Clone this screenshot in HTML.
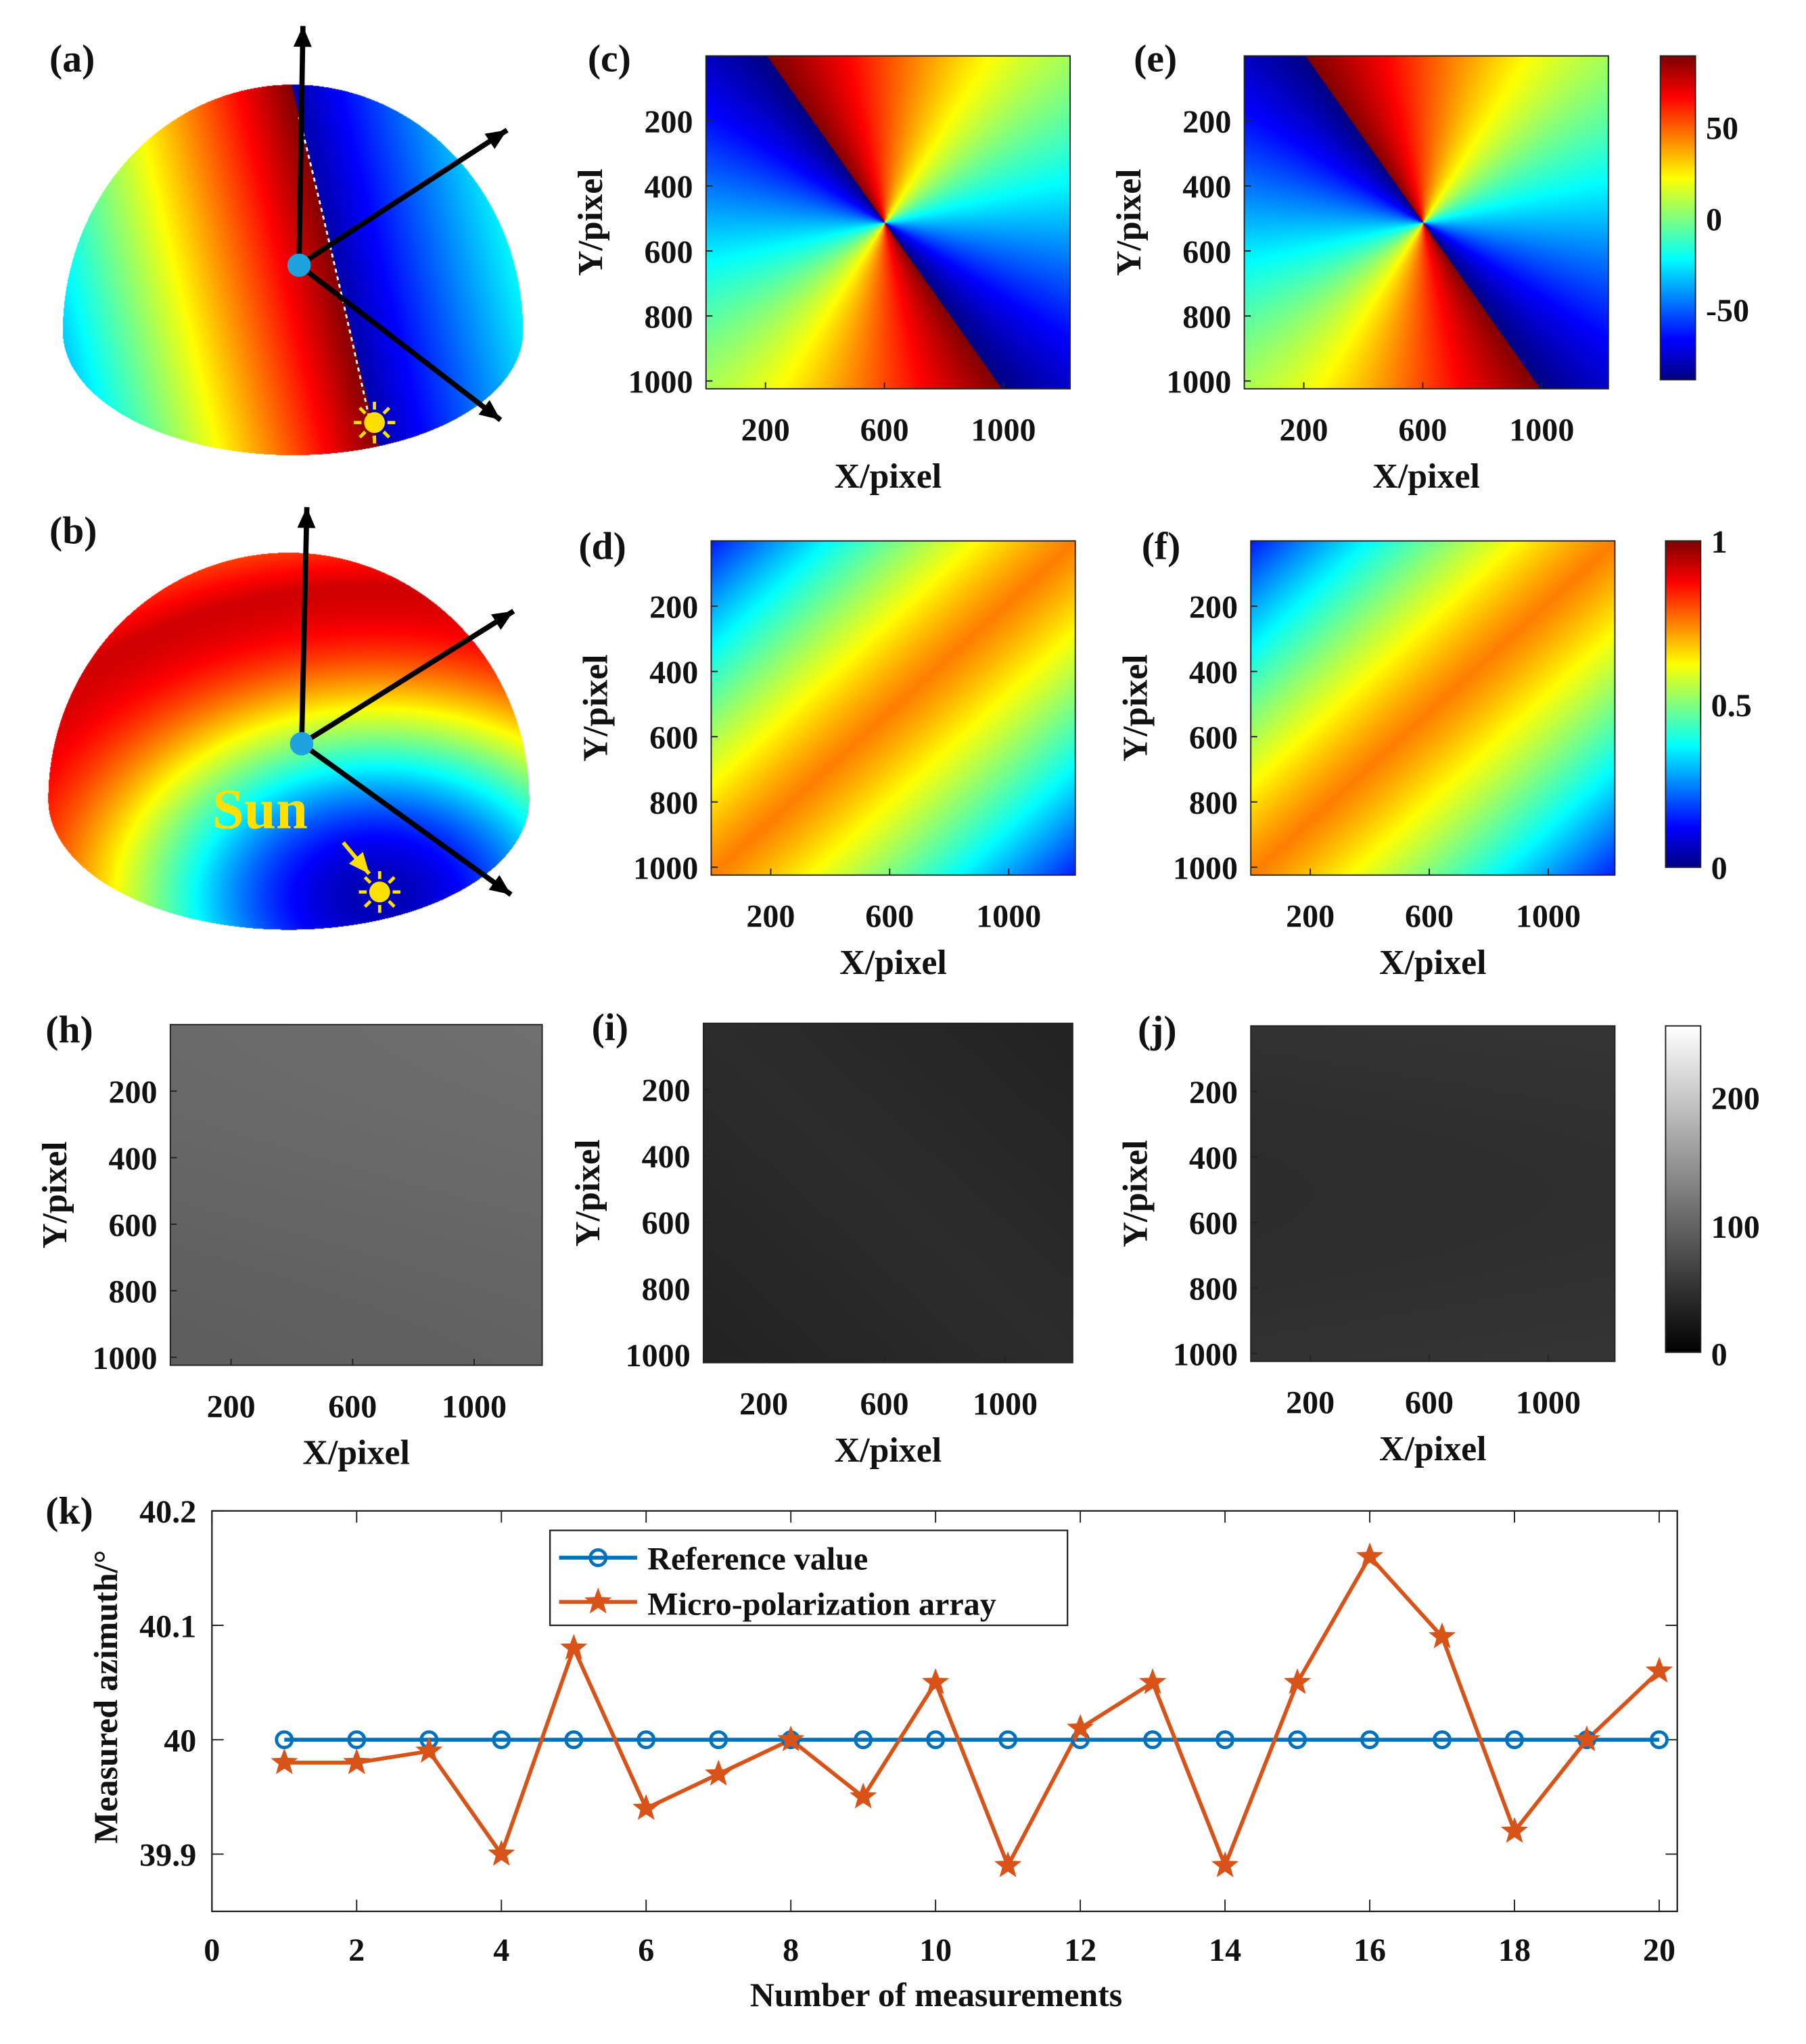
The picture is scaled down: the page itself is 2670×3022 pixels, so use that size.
<!DOCTYPE html>
<html><head><meta charset="utf-8">
<style>
html,body{margin:0;padding:0;background:#fff;}
#wrap{position:relative;width:2670px;height:3022px;overflow:hidden;}
canvas,svg{position:absolute;left:0;top:0;}
text{font-family:"Liberation Serif",serif;font-weight:bold;fill:#111;}
</style></head>
<body>
<div id="wrap">
<canvas id="cv" width="2670" height="3022"></canvas>
<svg id="sv" width="2670" height="3022" viewBox="0 0 1389 1572" preserveAspectRatio="none"></svg>
</div>
<script>
// ---- line chart data (panel k) ----
const measIdx = [1,2,3,4,5,6,7,8,9,10,11,12,13,14,15,16,17,18,19,20];
const refValues = [40,40,40,40,40,40,40,40,40,40,40,40,40,40,40,40,40,40,40,40];
const microValues = [39.98,39.98,39.99,39.90,40.08,39.94,39.97,40.00,39.95,40.05,39.89,40.01,40.05,39.89,40.05,40.16,40.09,39.92,40.00,40.06];
const xTicks = [0,2,4,6,8,10,12,14,16,18,20];
const yTicks = [39.9,40,40.1,40.2];
const yTickLabels = ["39.9","40","40.1","40.2"];
const legendLabels = ["Reference value","Micro-polarization array"];
const hmXTicks = [200,600,1000];
const hmYTicks = [200,400,600,800,1000];

const S = 2670/1389, SY = 3022/1572;
const cv = document.getElementById('cv');
const ctx = cv.getContext('2d');
ctx.fillStyle='#fff';ctx.fillRect(0,0,2670,3022);
const NS='http://www.w3.org/2000/svg';
const sv=document.getElementById('sv');
function el(tag,attrs,parent){const e=document.createElementNS(NS,tag);for(const k in attrs)e.setAttribute(k,attrs[k]);(parent||sv).appendChild(e);return e;}
function txt(x,y,s,size,anchor,name,extra){const t=el('text',Object.assign({x:x,y:y,'font-size':size,'text-anchor':anchor||'middle'},extra||{}));t.textContent=s;return t;}
function cl(v){return v<0?0:v>1?1:v;}
function jet(v){v=cl(v);return [cl(1.5-Math.abs(4*v-3))*255,cl(1.5-Math.abs(4*v-2))*255,cl(1.5-Math.abs(4*v-1))*255];}

function paint(x,y,w,h,fn){
  const pw=Math.round(w*S),ph=Math.round(h*SY);
  const id=ctx.createImageData(pw,ph);
  for(let j=0;j<ph;j++)for(let i=0;i<pw;i++){
    const c=fn(i/pw,j/ph,i/S,j/SY);
    if(!c)continue;
    const k=(j*pw+i)*4;id.data[k]=c[0];id.data[k+1]=c[1];id.data[k+2]=c[2];id.data[k+3]=255;
  }
  ctx.putImageData(id,Math.round(x*S),Math.round(y*SY));
}
const phi0=Math.atan2(-129,-91);
function aop(xn,yn){const dx=(xn-0.49)*280,dy=(yn-0.5)*256;let p=Math.atan2(dy,dx)-phi0;p=((p%Math.PI)+Math.PI)%Math.PI;return jet(1-p/Math.PI);}
function dop(xn,yn){const d=Math.abs(xn+yn-1);return jet(0.75-0.6*Math.pow(d,1.2));}
function grayC(g){g=Math.max(0,Math.min(255,g));return [g,g,g];}

paint(543,43,280,256,aop);
paint(957,43,280,256,aop);
paint(547,416,280,257,dop);
paint(962,416,280,257,dop);
paint(131,788,286,262,(xn,yn)=>grayC(102+5*(xn-yn)+4*Math.cos(3*yn)));
paint(541,787,284,261,(xn,yn)=>grayC(34+10*(1-Math.abs(xn-yn))));
paint(962,789,280,258,(xn,yn)=>grayC(50-6*Math.sin(Math.PI*yn)+3*xn));
paint(1277,43,27,249,(xn,yn)=>jet(1-yn));
paint(1281,416,27,251,(xn,yn)=>jet(1-yn));
paint(1281,789,27,251,(xn,yn)=>grayC(255*(1-yn)));

function inDome(px,py,cx,cy,rx,ryT,ryB){const dx=(px-cx)/rx;if(Math.abs(dx)>1)return false;if(py<=cy)return ((py-cy)/ryT)**2+dx*dx<=1;return ((py-cy)/ryB)**2+dx*dx<=1;}
paint(40,60,370,300,(xn,yn,lx,ly)=>{
  const px=40+lx,py=60+ly;
  if(!inDome(px,py,225,255,177,190,95))return null;
  const xc=230+(py-90)*0.24;const d=px-xc;
  let v;
  if(d>=0)v=0.04+d/420;else v=1-(-d)/330;
  return jet(v);
});
paint(35,420,375,300,(xn,yn,lx,ly)=>{
  const px=35+lx,py=420+ly;
  if(!inDome(px,py,222,615,185,190,100))return null;
  const d=Math.hypot((px-290)*0.9,(py-690)*1.25);
  let t=d/300;let v=Math.sin(Math.PI/2*Math.min(t,1.6))**2;
  if(t>1)v=1-(t-1)*0.9;
  return jet(0.05+0.87*v);
});

function arrow(x1,y1,x2,y2,name,color,w){
  const g=el('g',{});
  el('line',{x1:x1,y1:y1,x2:x2,y2:y2,stroke:color||'#000','stroke-width':w||4},g);
  const a=Math.atan2(y2-y1,x2-x1),L=16,W=7;
  const p=[[x2,y2],[x2-L*Math.cos(a)+W*Math.sin(a),y2-L*Math.sin(a)-W*Math.cos(a)],[x2-L*Math.cos(a)-W*Math.sin(a),y2-L*Math.sin(a)+W*Math.cos(a)]];
  el('polygon',{points:p.map(q=>q.join(',')).join(' '),fill:color||'#000'},g);
}
function sun(cx,cy,name){const g=el('g',{});
  for(let i=0;i<8;i++){const a=i*Math.PI/4;el('line',{x1:cx+10*Math.cos(a),y1:cy+10*Math.sin(a),x2:cx+16*Math.cos(a),y2:cy+16*Math.sin(a),stroke:'#ffe000','stroke-width':2.5},g);}
  el('circle',{cx:cx,cy:cy,r:8,fill:'#ffe000'},g);}
el('path',{d:'M230,90 Q262,220 288,340',stroke:'#fff','stroke-width':1.5,fill:'none','stroke-dasharray':'3,3'});
arrow(230,204,233,20,'zenith-arrow-a');arrow(230,204,390,100,'x-arrow-a');arrow(230,204,385,323,'y-arrow-a');
el('circle',{cx:230,cy:204,r:9,fill:'#1fa3e0'});
sun(288,325,'sun-icon-a');
arrow(232,572,236,390,'zenith-arrow-b');arrow(232,572,395,470,'x-arrow-b');arrow(232,572,393,688,'y-arrow-b');
el('circle',{cx:232,cy:572,r:9,fill:'#1fa3e0'});
txt(200,637,'Sun',44,'middle','sun-label',{style:'fill:#ffe000'});
arrow(264,648,284,672,'sun-pointer-arrow','#ffe000',3);
sun(292,686,'sun-icon-b');

[['(a)',38,55],['(b)',38,418],['(c)',452,55],['(e)',872,55],['(d)',445,430],['(f)',878,430],['(h)',35,802],['(i)',455,800],['(j)',875,802],['(k)',35,1172]].forEach(p=>txt(p[1],p[2],p[0],30,'start','panel-label-'+p[0][1]));

function hmAxes(x,y,w,h,name){
  const xmax=1224,ymax=1024;
  const g=el('g',{});
  el('rect',{x:x,y:y,width:w,height:h,fill:'none',stroke:'#222','stroke-width':1},g);
  hmXTicks.forEach(v=>{const px=x+v/xmax*w;el('line',{x1:px,y1:y+h,x2:px,y2:y+h-5,stroke:'#222'},g);txt(px,y+h+40,String(v),25,'middle','x-tick-label');});
  hmYTicks.forEach(v=>{const py=y+v/ymax*h;el('line',{x1:x,y1:py,x2:x+5,y2:py,stroke:'#222'},g);txt(x-10,py+9,String(v),25,'end','y-tick-label');});
  txt(x+w/2,y+h+76,'X/pixel',27,'middle','x-axis-title');
  txt(0,0,'Y/pixel',27,'middle','y-axis-title',{transform:`translate(${x-80},${y+h/2}) rotate(-90)`});
}
hmAxes(543,43,280,256,'heatmap-c');hmAxes(957,43,280,256,'heatmap-e');
hmAxes(547,416,280,257,'heatmap-d');hmAxes(962,416,280,257,'heatmap-f');
hmAxes(131,788,286,262,'heatmap-h');hmAxes(541,787,284,261,'heatmap-i');hmAxes(962,789,280,258,'heatmap-j');
[[1277,43,27,249],[1281,416,27,251],[1281,789,27,251]].forEach((r,i)=>{const e=el('rect',{x:r[0],y:r[1],width:r[2],height:r[3],fill:'none',stroke:'#222'});});
[['50',98],['0',168],['-50',238]].forEach(t=>txt(1312,t[1]+9,t[0],25,'start','colorbar-tick'));
[['1',416],['0.5',542],['0',667]].forEach(t=>txt(1316,t[1]+9,t[0],25,'start','colorbar-tick'));
[['200',844],['100',943],['0',1041]].forEach(t=>txt(1316,t[1]+9,t[0],25,'start','colorbar-tick'));

const X0=163,X1=1290,Y0=1162,Y1=1470;
const xs=v=>X0+(v/20.25)*(X1-X0);
const ys=v=>Y1-(v-39.85)/(40.2-39.85)*(Y1-Y0);
const ax=el('g',{});
el('rect',{x:X0,y:Y0,width:X1-X0,height:Y1-Y0,fill:'none',stroke:'#222','stroke-width':1.2},ax);
xTicks.forEach(v=>{el('line',{x1:xs(v),y1:Y1,x2:xs(v),y2:Y1-9,stroke:'#222'},ax);el('line',{x1:xs(v),y1:Y0,x2:xs(v),y2:Y0+9,stroke:'#222'},ax);txt(xs(v),Y1+38,String(v),25,'middle','x-tick-label');});
yTicks.forEach((v,i)=>{el('line',{x1:X0,y1:ys(v),x2:X0+9,y2:ys(v),stroke:'#222'},ax);el('line',{x1:X1,y1:ys(v),x2:X1-9,y2:ys(v),stroke:'#222'},ax);txt(X0-12,ys(v)+9,yTickLabels[i],25,'end','y-tick-label');});
txt(720,1543,'Number of measurements',26,'middle','x-axis-title');
txt(0,0,'Measured azimuth/°',26,'middle','y-axis-title',{transform:`translate(90,1305) rotate(-90)`});
const ref=el('polyline',{points:measIdx.map((m,i)=>xs(m)+','+ys(refValues[i])).join(' '),fill:'none',stroke:'#0072BD','stroke-width':3});

const mic=el('polyline',{points:measIdx.map((m,i)=>xs(m)+','+ys(microValues[i])).join(' '),fill:'none',stroke:'#D95319','stroke-width':3});

function star(cx,cy,r){let p=[];for(let i=0;i<10;i++){const a=-Math.PI/2+i*Math.PI/5,rr=i%2?r*0.42:r;p.push((cx+rr*Math.cos(a)).toFixed(1)+','+(cy+rr*Math.sin(a)).toFixed(1));}return p.join(' ');}
measIdx.forEach((m,i)=>{
  const c=el('circle',{cx:xs(m),cy:ys(refValues[i]),r:6,fill:'none',stroke:'#0072BD','stroke-width':2.5});
  
  const s=el('polygon',{points:star(xs(m),ys(microValues[i]),11),fill:'#D95319'});
  
});
const lg=el('g',{});
el('rect',{x:423,y:1177,width:398,height:73,fill:'#fff',stroke:'#222','stroke-width':1.2},lg);
el('line',{x1:430,y1:1198,x2:490,y2:1198,stroke:'#0072BD','stroke-width':3},lg);
el('circle',{cx:460,cy:1198,r:6,fill:'none',stroke:'#0072BD','stroke-width':2.5},lg);
el('line',{x1:430,y1:1232,x2:490,y2:1232,stroke:'#D95319','stroke-width':3},lg);
el('polygon',{points:star(460,1232,11),fill:'#D95319'},lg);
txt(498,1207,legendLabels[0],25,'start','legend-entry-reference');
txt(498,1242,legendLabels[1],25,'start','legend-entry-micro');
</script>
</body></html>
